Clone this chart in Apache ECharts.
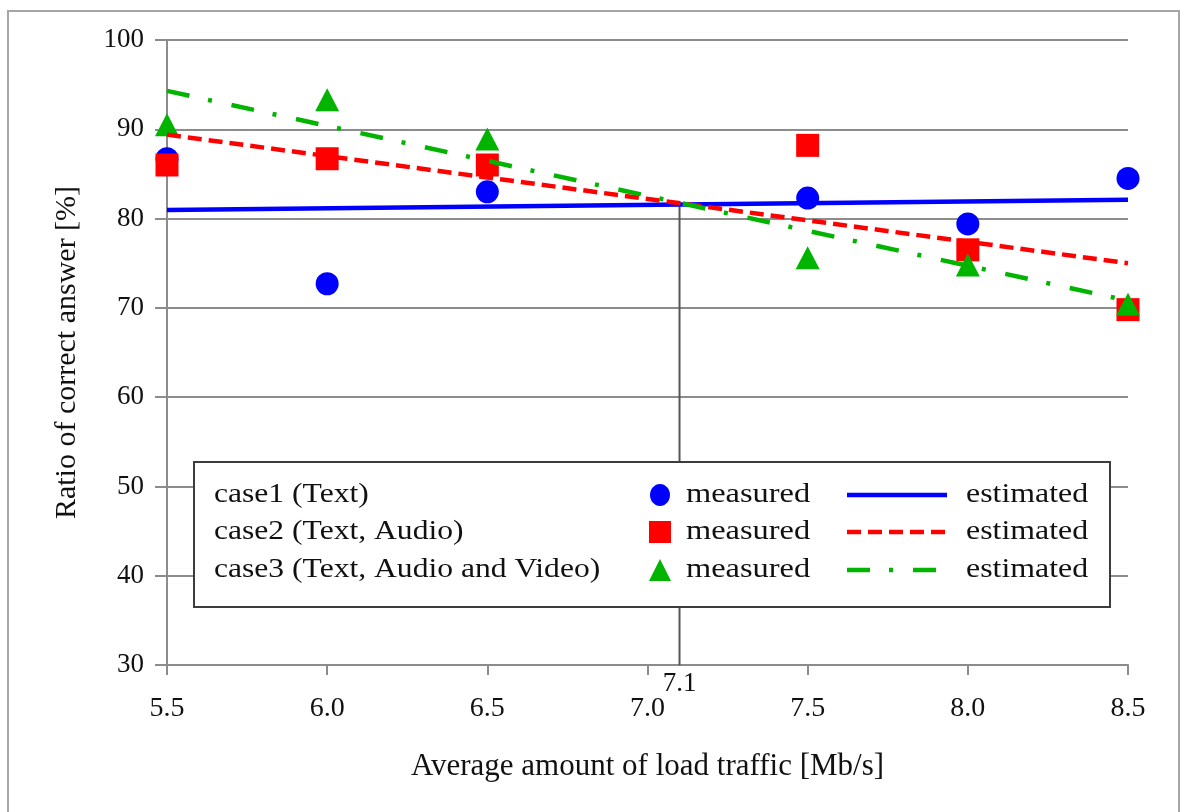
<!DOCTYPE html>
<html>
<head>
<meta charset="utf-8">
<script src="https://cdn.jsdelivr.net/npm/echarts@6/dist/echarts.min.js"></script>
<style>
  html, body { margin: 0; padding: 0; background: #fff; }
  #chart { width: 1180px; height: 812px; }
</style>
</head>
<body>
<div id="chart"></div>
<script>
// Load traffic levels [Mb/s] at which the answer ratio was measured
const loadTraffic = [5.5, 6.0, 6.5, 7.5, 8.0, 8.5];

// Measured ratio of correct answers [%]
const case1Measured = [86.7, 72.7, 83.0, 82.3, 79.4, 84.5];
const case2Measured = [86.0, 86.7, 86.0, 88.2, 76.5, 69.8];
const case3Measured = [90.5, 93.3, 88.9, 75.6, 74.8, 70.4];

// Estimated (linear fit) ratio at both ends of the traffic range
const estimateTraffic = [5.5, 8.5];
const case1Estimated = [80.96, 82.1];
const case2Estimated = [89.4, 75.0];
const case3Estimated = [94.3, 70.8];

// Crossing point of the estimated lines
const crossTraffic = 7.1;
const crossRatio = 81.5;

// Axis ranges
const xRange = [5.5, 8.5];
const xStep = 0.5;
const yRange = [30, 100];
const yStep = 10;

// Legend rows
const caseLabels = ['case1 (Text)', 'case2 (Text, Audio)', 'case3 (Text, Audio and Video)'];
const measuredLabel = 'measured';
const estimatedLabel = 'estimated';

const SERIF = '"Liberation Serif", "Times New Roman", serif';
const BLUE = '#0000ff';
const RED = '#ff0000';
const GREEN = '#00b400';
const GRID_GRAY = '#8c8c8c';
const LEGEND_Z = 100;

const pairs = (xs, ys) => xs.map((x, i) => [x, ys[i]]);

const chart = echarts.init(document.getElementById('chart'), null, { renderer: 'canvas' });

const lineStyles = [
  { color: BLUE, width: 4.5, type: 'solid' },
  { color: RED, width: 4.5, type: [14, 7] },
  { color: GREEN, width: 4.5, type: [23, 19, 4, 20] }
];

// Legend drawn as a framed block of graphics on top of the plot
const legendRowsY = [495, 532, 570];
const legendItems = [
  {
    type: 'rect', z: LEGEND_Z,
    shape: { x: 194, y: 462, width: 916, height: 145 },
    style: { fill: '#ffffff', stroke: '#3c3c3c', lineWidth: 2 }
  }
];
const legendText = (x, y, text, scaleX) => ({
  type: 'text', z: LEGEND_Z + 1, x: x, y: y, scaleX: scaleX,
  style: { text: text, font: '27px ' + SERIF, fill: '#111', textVerticalAlign: 'middle', textAlign: 'left' }
});
legendRowsY.forEach((y, i) => {
  legendItems.push(legendText(214, y, caseLabels[i], 1.17));
  legendItems.push(legendText(686, y, measuredLabel, 1.2));
  legendItems.push(legendText(966, y, estimatedLabel, 1.18));
  legendItems.push({
    type: 'line', z: LEGEND_Z + 1,
    shape: { x1: 847, y1: y, x2: 947, y2: y },
    style: { stroke: lineStyles[i].color, lineWidth: 4.5, lineDash: i === 0 ? null : lineStyles[i].type }
  });
});
legendItems.push({
  type: 'ellipse', z: LEGEND_Z + 1,
  shape: { cx: 660, cy: legendRowsY[0], rx: 10, ry: 11 }, style: { fill: BLUE }
});
legendItems.push({
  type: 'rect', z: LEGEND_Z + 1,
  shape: { x: 649, y: legendRowsY[1] - 11, width: 22, height: 22 }, style: { fill: RED }
});
legendItems.push({
  type: 'polygon', z: LEGEND_Z + 1,
  shape: { points: [[660, legendRowsY[2] - 11], [671, legendRowsY[2] + 11], [649, legendRowsY[2] + 11]] },
  style: { fill: GREEN }
});

const option = {
  backgroundColor: '#ffffff',
  animation: false,
  textStyle: { fontFamily: SERIF },
  grid: { left: 167, right: 52, top: 40, bottom: 147, containLabel: false },
  xAxis: {
    type: 'value',
    min: xRange[0], max: xRange[1], interval: xStep,
    name: 'Average amount of load traffic [Mb/s]',
    nameLocation: 'middle', nameGap: 86,
    nameTextStyle: { fontFamily: SERIF, fontSize: 31, color: '#111' },
    axisLine: { show: true, lineStyle: { color: GRID_GRAY, width: 2 } },
    axisTick: { show: true, length: 10, lineStyle: { color: GRID_GRAY, width: 2 } },
    axisLabel: { margin: 30, fontFamily: SERIF, fontSize: 28, color: '#111', formatter: v => v.toFixed(1) },
    splitLine: { show: false }
  },
  yAxis: {
    type: 'value',
    min: yRange[0], max: yRange[1], interval: yStep,
    name: 'Ratio of correct answer [%]',
    nameLocation: 'middle', nameGap: 85,
    nameTextStyle: { fontFamily: SERIF, fontSize: 30, color: '#111' },
    axisLine: { show: true, lineStyle: { color: GRID_GRAY, width: 2 } },
    axisTick: { show: true, length: 12, lineStyle: { color: GRID_GRAY, width: 2 } },
    axisLabel: { margin: 23, fontFamily: SERIF, fontSize: 27, color: '#111' },
    splitLine: { show: true, lineStyle: { color: GRID_GRAY, width: 2 } }
  },
  series: [
    {
      name: 'crossing',
      type: 'line',
      data: [
        {
          value: [crossTraffic, yRange[0]],
          label: {
            show: true, position: 'bottom', distance: 5,
            formatter: String(crossTraffic),
            fontFamily: SERIF, fontSize: 27, color: '#111'
          }
        },
        [crossTraffic, crossRatio]
      ],
      symbol: 'circle', symbolSize: 1, showSymbol: true,
      itemStyle: { color: '#555555' },
      lineStyle: { color: '#555555', width: 2 },
      silent: true
    },
    {
      name: 'case1 estimated', type: 'line', data: pairs(estimateTraffic, case1Estimated),
      showSymbol: false, lineStyle: lineStyles[0], clip: false
    },
    {
      name: 'case2 estimated', type: 'line', data: pairs(estimateTraffic, case2Estimated),
      showSymbol: false, lineStyle: lineStyles[1], clip: false
    },
    {
      name: 'case3 estimated', type: 'line', data: pairs(estimateTraffic, case3Estimated),
      showSymbol: false, lineStyle: lineStyles[2], clip: false
    },
    {
      name: 'case1 measured', type: 'scatter', data: pairs(loadTraffic, case1Measured),
      symbol: 'circle', symbolSize: 23, itemStyle: { color: BLUE, opacity: 1 }, clip: false
    },
    {
      name: 'case2 measured', type: 'scatter', data: pairs(loadTraffic, case2Measured),
      symbol: 'rect', symbolSize: 23, itemStyle: { color: RED, opacity: 1 }, clip: false
    },
    {
      name: 'case3 measured', type: 'scatter', data: pairs(loadTraffic, case3Measured),
      symbol: 'triangle', symbolSize: [24, 23], itemStyle: { color: GREEN, opacity: 1 }, clip: false
    }
  ],
  graphic: [
    {
      type: 'rect', z: -10, silent: true,
      shape: { x: 8, y: 11, width: 1171, height: 830 },
      style: { fill: null, stroke: '#a6a6a6', lineWidth: 2 }
    }
  ].concat(legendItems.map(el => Object.assign({ silent: true }, el)))
};

chart.setOption(option);
</script>
</body>
</html>
